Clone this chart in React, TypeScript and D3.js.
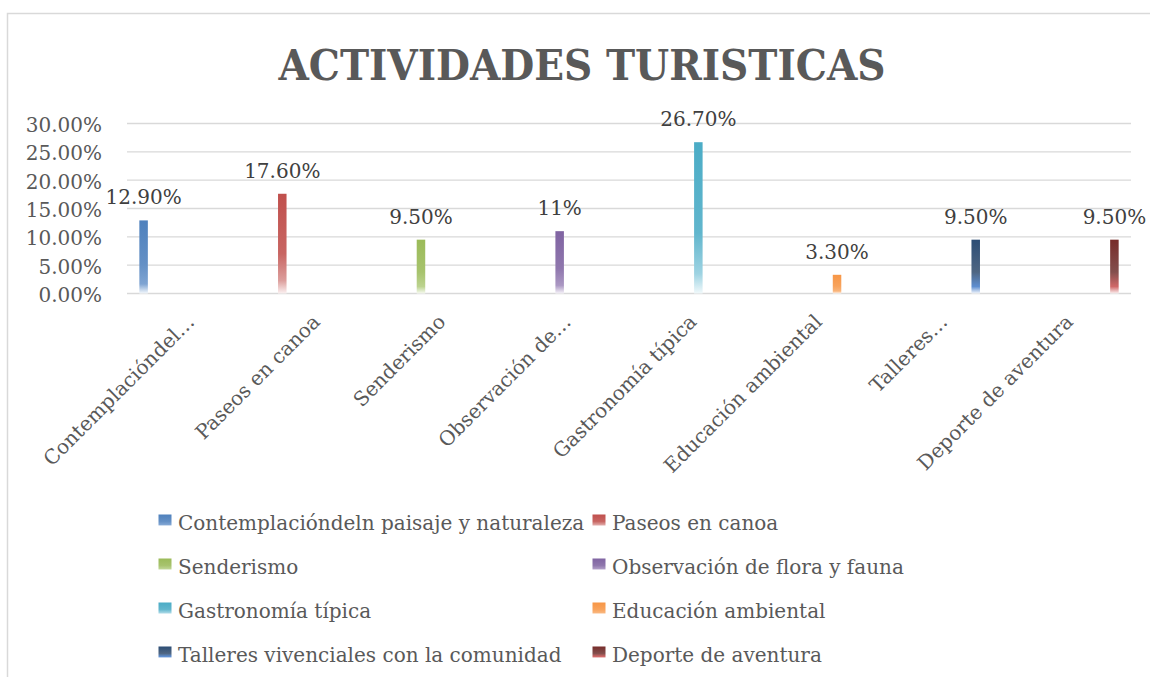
import * as d3 from "d3";
import { useEffect, useRef } from "react";

const title = "ACTIVIDADES TURISTICAS";

const seriesNames = [
  "Contemplacióndeln paisaje y naturaleza",
  "Paseos en canoa",
  "Senderismo",
  "Observación de flora y fauna",
  "Gastronomía típica",
  "Educación ambiental",
  "Talleres vivenciales con la comunidad",
  "Deporte de aventura",
];

// etiquetas cortadas del eje x, como en la imagen
const axisLabels = [
  "Contemplacióndel…",
  "Paseos en canoa",
  "Senderismo",
  "Observación de…",
  "Gastronomía típica",
  "Educación ambiental",
  "Talleres…",
  "Deporte de aventura",
];

const values = [0.129, 0.176, 0.095, 0.11, 0.267, 0.033, 0.095, 0.095];
const valueLabels = ["12.90%", "17.60%", "9.50%", "11%", "26.70%", "3.30%", "9.50%", "9.50%"];
const yTicks = [0, 0.05, 0.1, 0.15, 0.2, 0.25, 0.3];

// colores: [arriba, cerca del fondo, abajo]
const colors = [
  ["#4f81bd", "#7fa4d2", "#f4f8fc"],
  ["#c0504d", "#dc9e9c", "#fbf1f1"],
  ["#9bbb59", "#bcd38f", "#f7faf1"],
  ["#8064a2", "#ab98c3", "#f6f3f9"],
  ["#4bacc6", "#9ed3e2", "#f1f9fb"],
  ["#f79646", "#f9b47a", "#fef4ec"],
  ["#2c4d75", "#5e8ed0", "#f3f6fb"],
  ["#772c2a", "#d06868", "#fbf0f0"],
];

const FONT = "'DejaVu Serif', serif";
const TEXT = "#595959";

export default function App() {
  const svgRef = useRef<SVGSVGElement>(null);

  useEffect(() => {
    const width = 1150;
    const height = 677;
    const svg = d3.select(svgRef.current).attr("width", width).attr("height", height);
    svg.selectAll("*").remove();

    const x0 = d3.scaleBand<string>().domain(seriesNames).range([127, 1131]);
    const pad = 10;
    const x1 = d3.scaleBand<string>()
      .domain(seriesNames)
      .range([pad, x0.bandwidth() - pad])
      .paddingInner(0.355)
      .paddingOuter(0.1775);
    const y = d3.scaleLinear().domain([0, 0.3]).range([293.5, 123.5]);

    // gradientes
    const defs = svg.append("defs");
    colors.forEach((c, i) => {
      const g = defs.append("linearGradient")
        .attr("id", `grad${i}`)
        .attr("x1", 0).attr("y1", 0).attr("x2", 0).attr("y2", 1);
      const dark = i >= 6;
      const mid = dark ? d3.interpolateRgb(c[0], "#a0a0a0")(0.3) : d3.interpolateRgb(c[0], "#ffffff")(0.12);
      g.append("stop").attr("offset", "0%").attr("stop-color", c[0]);
      g.append("stop").attr("offset", "60%").attr("stop-color", mid);
      g.append("stop").attr("offset", "87%").attr("stop-color", c[1]);
      g.append("stop").attr("offset", "100%").attr("stop-color", c[2]);
    });

    // fondo y borde
    svg.append("rect").attr("width", width).attr("height", height).attr("fill", "#ffffff");
    svg.append("rect")
      .attr("x", 7.5).attr("y", 13.5)
      .attr("width", width + 10).attr("height", height + 10)
      .attr("fill", "none").attr("stroke", "#d9d9d9").attr("stroke-width", 1.5);

    // titulo
    svg.append("text")
      .attr("x", 582).attr("y", 80)
      .attr("text-anchor", "middle")
      .attr("font-family", "'DejaVu Serif Condensed', 'DejaVu Serif', serif")
      .attr("font-stretch", "condensed")
      .attr("font-weight", "bold")
      .attr("font-size", 43.5)
      .attr("fill", TEXT)
      .text(title);

    // grilla
    svg.append("g")
      .selectAll("line")
      .data(yTicks)
      .join("line")
      .attr("x1", 127).attr("x2", 1131)
      .attr("y1", d => y(d)).attr("y2", d => y(d))
      .attr("stroke", "#d9d9d9").attr("stroke-width", 1.3);

    // eje y
    svg.append("g")
      .selectAll("text")
      .data(yTicks)
      .join("text")
      .attr("x", 102)
      .attr("y", d => y(d) + 8.5)
      .attr("text-anchor", "end")
      .attr("font-family", FONT)
      .attr("font-size", 20)
      .attr("fill", TEXT)
      .text(d => d3.format(".2%")(d));

    // barras
    svg.append("g")
      .selectAll("rect")
      .data(values)
      .join("rect")
      .attr("x", (d, i) => x0(seriesNames[i])! + x1(seriesNames[i])!)
      .attr("y", d => y(d))
      .attr("width", x1.bandwidth())
      .attr("height", d => y(0) - y(d))
      .attr("fill", (d, i) => `url(#grad${i})`);

    // etiquetas de valor
    svg.append("g")
      .selectAll("text")
      .data(values)
      .join("text")
      .attr("x", (d, i) => x0(seriesNames[i])! + x1(seriesNames[i])! + x1.bandwidth() / 2)
      .attr("y", d => y(d) - 16)
      .attr("text-anchor", "middle")
      .attr("font-family", FONT)
      .attr("font-size", 20)
      .attr("fill", "#404040")
      .text((d, i) => valueLabels[i]);

    // etiquetas del eje x
    svg.append("g")
      .selectAll("text")
      .data(axisLabels)
      .join("text")
      .attr("transform", (d, i) => `translate(${x0(seriesNames[i])! + x0.bandwidth() / 2 + 6},${323}) rotate(-45)`)
      .attr("text-anchor", "end")
      .attr("font-family", FONT)
      .attr("font-size", 20)
      .attr("fill", TEXT)
      .text(d => d);

    // leyenda
    const legendX = [158.5, 592.5];
    const legend = svg.append("g")
      .selectAll("g")
      .data(seriesNames)
      .join("g")
      .attr("transform", (d, i) => `translate(${legendX[i % 2]},${529.5 + Math.floor(i / 2) * 44})`);

    legend.append("rect")
      .attr("x", 0).attr("y", -15)
      .attr("width", 13).attr("height", 11.5)
      .attr("fill", (d, i) => `url(#grad${i})`);

    legend.append("text")
      .attr("x", 19.5).attr("y", 0)
      .attr("font-family", FONT)
      .attr("font-size", 20)
      .attr("fill", TEXT)
      .text(d => d);
  }, []);

  return <svg ref={svgRef} style={{ position: "absolute", left: 0, top: 0, display: "block" }}></svg>;
}
